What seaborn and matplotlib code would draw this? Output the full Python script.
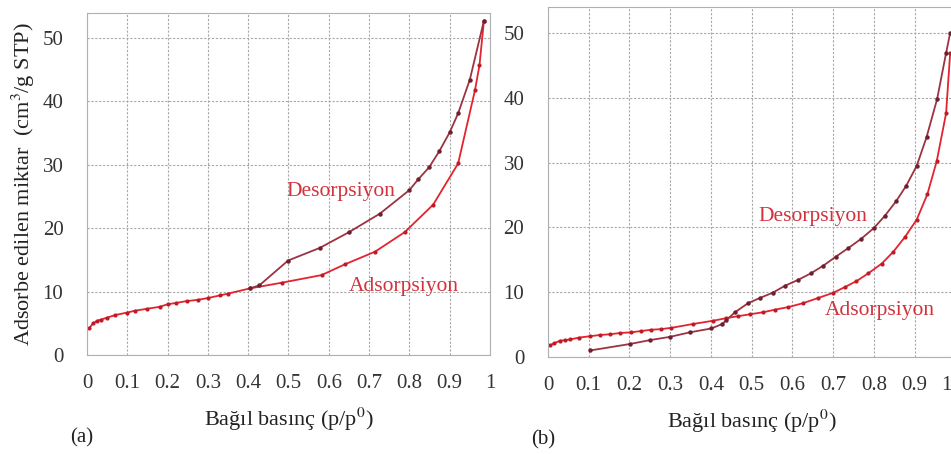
import numpy as np
import pandas as pd
import matplotlib.pyplot as plt
import matplotlib.transforms as mtransforms
import seaborn as sns

# panel (a)
ads_a_x = [0.005, 0.015, 0.025, 0.035, 0.05, 0.07, 0.1, 0.12, 0.15, 0.18, 0.2, 0.22,
           0.247, 0.275, 0.301, 0.33, 0.351, 0.404, 0.483, 0.582, 0.640, 0.715,
           0.789, 0.859, 0.921, 0.963, 0.974, 0.985]
ads_a_y = [4.2, 5.0, 5.4, 5.6, 5.9, 6.3, 6.7, 7.0, 7.3, 7.6, 8.0, 8.2,
           8.5, 8.7, 9.0, 9.4, 9.7, 10.5, 11.4, 12.6, 14.3, 16.3,
           19.4, 23.7, 30.2, 41.8, 45.7, 52.7]
des_a_x = [0.985, 0.950, 0.921, 0.900, 0.874, 0.849, 0.822, 0.800, 0.727, 0.651,
           0.578, 0.499, 0.428, 0.404]
des_a_y = [52.7, 43.4, 38.1, 35.1, 32.1, 29.6, 27.7, 26.0, 22.3, 19.4,
           16.9, 14.9, 11.0, 10.5]

# panel (b)
ads_b_x = [0.005, 0.015, 0.029, 0.042, 0.054, 0.077, 0.103, 0.128, 0.152, 0.177,
           0.204, 0.228, 0.253, 0.278, 0.303, 0.357, 0.406, 0.438, 0.467, 0.497,
           0.528, 0.557, 0.590, 0.626, 0.663, 0.700, 0.729, 0.757, 0.786, 0.819,
           0.847, 0.876, 0.905, 0.931, 0.954, 0.977, 0.987]
ads_b_y = [1.8, 2.1, 2.5, 2.6, 2.7, 3.0, 3.2, 3.4, 3.5, 3.7,
           3.8, 4.0, 4.2, 4.3, 4.5, 5.1, 5.6, 6.0, 6.3, 6.6,
           6.9, 7.3, 7.7, 8.3, 9.1, 9.9, 10.8, 11.7, 12.9, 14.4,
           16.2, 18.5, 21.2, 25.1, 30.2, 37.6, 46.9]
des_b_x = [0.987, 0.977, 0.955, 0.929, 0.905, 0.879, 0.854, 0.827, 0.800, 0.768,
           0.737, 0.707, 0.676, 0.645, 0.614, 0.582, 0.551, 0.520, 0.491, 0.459,
           0.438, 0.428, 0.401, 0.348, 0.299, 0.250, 0.201, 0.103]
des_b_y = [50.0, 46.9, 39.8, 33.9, 29.5, 26.4, 24.0, 21.8, 19.9, 18.2,
           16.8, 15.5, 14.1, 12.9, 11.9, 11.0, 9.9, 9.1, 8.3, 6.9,
           5.7, 5.1, 4.4, 3.8, 3.1, 2.6, 2.0, 1.0]

x_ticks = [0, 0.1, 0.2, 0.3, 0.4, 0.5, 0.6, 0.7, 0.8, 0.9, 1]
x_labels = ["0", "0.1", "0.2", "0.3", "0.4", "0.5", "0.6", "0.7", "0.8", "0.9", "1"]
y_ticks = [0, 10, 20, 30, 40, 50]

ADS_COLOR = "#e3232e"
DES_COLOR = "#9c3341"
TEXT_COLOR = "#d2323c"

sns.set_style("white")
plt.rcParams['font.family'] = ['Liberation Serif', 'DejaVu Serif']
plt.rcParams['mathtext.fontset'] = 'stix'

fig = plt.figure(figsize=(9.51, 4.54), dpi=100)
ax_a = fig.add_axes([0.0915, 0.218, 0.4237, 0.753])
ax_b = fig.add_axes([0.5762, 0.2137, 0.4285, 0.771])


def draw_panel(ax, ax_x, ax_y, dx, dy, ymax):
    ads = pd.DataFrame({"x": ax_x, "y": ax_y})
    des = pd.DataFrame({"x": dx, "y": dy})
    sns.lineplot(data=ads, x="x", y="y", ax=ax, sort=False, color=ADS_COLOR,
                 lw=1.3, marker="o", markersize=3, markeredgewidth=0,
                 markerfacecolor="#c01a26")
    sns.lineplot(data=des, x="x", y="y", ax=ax, sort=False, color=DES_COLOR,
                 lw=1.3, marker="o", markersize=3.2, markeredgewidth=0,
                 markerfacecolor="#6e2030")
    ax.set_xlim(0, 1)
    ax.set_ylim(0, ymax)
    ax.set_xticks(x_ticks)
    ax.set_xticklabels(x_labels)
    ax.set_yticks(y_ticks)
    ax.set_xticks(np.arange(0, 1.0001, 0.02), minor=True)
    ax.set_yticks(np.arange(0, ymax, 2), minor=True)
    ax.grid(True, which="major", color="#a8a8a8", ls=(0, (2, 1.5)), lw=0.8)
    ax.tick_params(which="major", length=0, labelsize=15, colors="#333333")
    ax.tick_params(axis="y", pad=17)
    ax.tick_params(axis="x", pad=14)
    ax.tick_params(which="minor", length=2, color="#b0b0b0", direction="in")
    for sp in ax.spines.values():
        sp.set_color("#b0b0b0")
        sp.set_linewidth(0.8)
    ax.set_xlabel("Bağıl basınç (p/p$^0$)", fontsize=16, color="#222222", labelpad=9)
    ax.set_ylabel("")


draw_panel(ax_a, ads_a_x, ads_a_y, des_a_x, des_a_y, 53.9)
draw_panel(ax_b, ads_b_x, ads_b_y, des_b_x, des_b_y, 54.0)

# the right panel is cut at the figure edge; pull its last label inside
last = ax_b.get_xticklabels()[-1]
last.set_transform(last.get_transform()
                   + mtransforms.ScaledTranslation(-9 / 100, 0, fig.dpi_scale_trans))

ax_a.set_ylabel("Adsorbe edilen miktar  (cm$^3$/g STP)", fontsize=16,
                color="#222222", labelpad=4)

ax_a.text(0.63, 25.8, "Desorpsiyon", color=TEXT_COLOR, fontsize=15.5,
          ha="center", va="center")
ax_a.text(0.785, 10.8, "Adsorpsiyon", color=TEXT_COLOR, fontsize=15.5,
          ha="center", va="center")
ax_b.text(0.651, 21.6, "Desorpsiyon", color=TEXT_COLOR, fontsize=15.5,
          ha="center", va="center")
ax_b.text(0.815, 7.1, "Adsorpsiyon", color=TEXT_COLOR, fontsize=15.5,
          ha="center", va="center")

fig.text(82 / 951, 1 - 438 / 454, "(a)", fontsize=15, ha="center", va="center",
         color="#222222")
fig.text(543 / 951, 1 - 440 / 454, "(b)", fontsize=15, ha="center", va="center",
         color="#222222")

fig.savefig("out.png", dpi=100, facecolor="white")
